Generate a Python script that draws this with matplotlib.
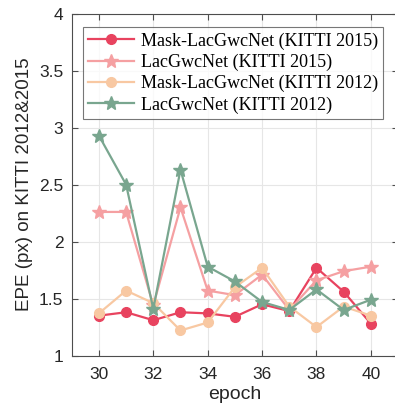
import matplotlib
matplotlib.use("Agg")
import matplotlib.pyplot as plt
import numpy as np

epochs = [30, 31, 32, 33, 34, 35, 36, 37, 38, 39, 40]
mask_2015 = [1.35, 1.38, 1.31, 1.38, 1.37, 1.34, 1.45, 1.39, 1.77, 1.56, 1.28]
lac_2015 = [2.26, 2.26, 1.44, 2.30, 1.57, 1.53, 1.71, 1.40, 1.66, 1.74, 1.78]
mask_2012 = [1.37, 1.57, 1.46, 1.22, 1.29, 1.60, 1.77, 1.43, 1.25, 1.43, 1.35]
lac_2012 = [2.93, 2.50, 1.41, 2.63, 1.78, 1.65, 1.47, 1.40, 1.58, 1.40, 1.49]

series = [
    ("Mask-LacGwcNet (KITTI 2015)", mask_2015, "#e8435f", "o", 7),
    ("LacGwcNet (KITTI 2015)", lac_2015, "#f5a0a2", "*", 10),
    ("Mask-LacGwcNet (KITTI 2012)", mask_2012, "#f8c8a2", "o", 7),
    ("LacGwcNet (KITTI 2012)", lac_2012, "#79a68f", "*", 10),
]

fig = plt.figure(figsize=(3.95, 4.12), dpi=100)
ax = fig.add_axes([0.1815, 0.137, 0.8263, 0.830])

for label, vals, color, marker, ms in series:
    ax.plot(epochs, vals, color=color, marker=marker, markersize=ms,
            linewidth=1.6, label=label)

ax.set_xlim(29, 41)
ax.set_ylim(1, 4)
ax.set_xticks([30, 32, 34, 36, 38, 40])
ax.set_yticks([1, 1.5, 2, 2.5, 3, 3.5, 4])
ax.set_yticklabels(["1", "1.5", "2", "2.5", "3", "3.5", "4"])
ax.grid(True, color="#e6e6e6", linewidth=0.8)
ax.set_axisbelow(True)
for s in ax.spines.values():
    s.set_color("#4d4d4d")
    s.set_linewidth(0.8)
ax.tick_params(direction="in", top=True, right=True, length=4,
               color="#4d4d4d", labelsize=12.5, labelcolor="#262626")
ax.tick_params(axis="x", pad=8)
ax.tick_params(axis="y", pad=6)
for t in ax.get_xticklabels() + ax.get_yticklabels():
    t.set_family("Liberation Sans")

ax.set_xlabel("epoch", fontsize=14, family="Liberation Sans", color="#262626",
              labelpad=3)
ax.set_ylabel("EPE (px) on KITTI 2012&2015", fontsize=13.5,
              family="Liberation Sans", color="#262626", labelpad=4)

leg = ax.legend(loc="upper left", bbox_to_anchor=(83 / 395, 1 - 27 / 412),
                bbox_transform=fig.transFigure,
                prop={"family": "Liberation Serif", "size": 13},
                frameon=True, fancybox=False, borderpad=0.3,
                labelspacing=0.22, handlelength=2.5, handletextpad=0.4,
                borderaxespad=0)
leg.get_frame().set_edgecolor("#555555")
leg.get_frame().set_linewidth(0.8)

fig.savefig("out.png", dpi=100)
